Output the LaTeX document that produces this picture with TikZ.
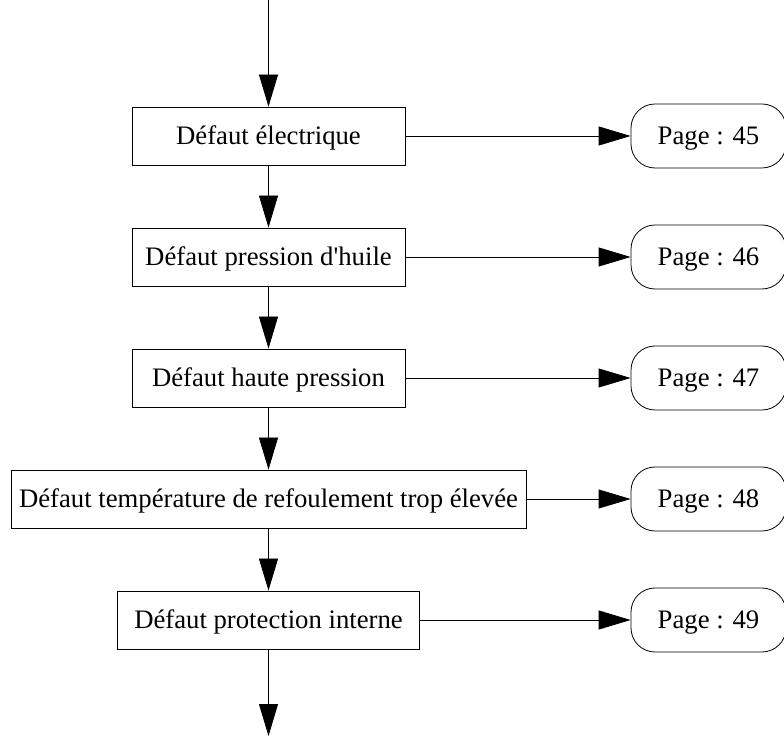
\documentclass[tikz,border=0pt]{standalone}
\usepackage{fontspec}
\setmainfont{Liberation Serif}
\usetikzlibrary{arrows.meta}
\begin{document}
\begin{tikzpicture}[x=1pt,y=1pt,
  faultbox/.style={draw, line width=0.8pt, rectangle, minimum height=58pt, inner sep=0pt, text height=20pt, text depth=2pt, font=\fontsize{26.7}{30}\selectfont},
  pagebox/.style={draw, line width=0.8pt, rectangle, rounded corners=24pt, minimum width=155pt, minimum height=64pt, inner sep=0pt, text height=20pt, text depth=2pt, font=\fontsize{26.7}{30}\selectfont},
  flow/.style={line width=0.8pt, -{Triangle[length=32pt,width=19pt]}}]
\useasboundingbox (0,0) rectangle (784,736);
\fill[white] (0,0) rectangle (784,736);
\node[faultbox, minimum width=273pt] (b1) at (268.5,600) {Défaut électrique};
\node[faultbox, minimum width=273pt] (b2) at (268.5,479) {Défaut pression d\textquotesingle huile};
\node[faultbox, minimum width=273pt] (b3) at (268.5,358) {Défaut haute pression};
\node[faultbox, minimum width=515pt] (b4) at (268.5,237) {Défaut température de refoulement trop élevée};
\node[faultbox, minimum width=302pt] (b5) at (268.5,116) {Défaut protection interne};
\node[pagebox] (p1) at (708.5,600) {Page : 45};
\node[pagebox] (p2) at (708.5,479) {Page : 46};
\node[pagebox] (p3) at (708.5,358) {Page : 47};
\node[pagebox] (p4) at (708.5,237) {Page : 48};
\node[pagebox] (p5) at (708.5,116) {Page : 49};
\coordinate (start) at (268.5,736);
\coordinate (finish) at (268.5,0);
\draw[flow] (start) -- (b1);
\draw[flow] (b1) -- (b2);
\draw[flow] (b2) -- (b3);
\draw[flow] (b3) -- (b4);
\draw[flow] (b4) -- (b5);
\draw[flow] (b5) -- (finish);
\draw[flow] (b1) -- (p1);
\draw[flow] (b2) -- (p2);
\draw[flow] (b3) -- (p3);
\draw[flow] (b4) -- (p4);
\draw[flow] (b5) -- (p5);
\end{tikzpicture}
\end{document}
